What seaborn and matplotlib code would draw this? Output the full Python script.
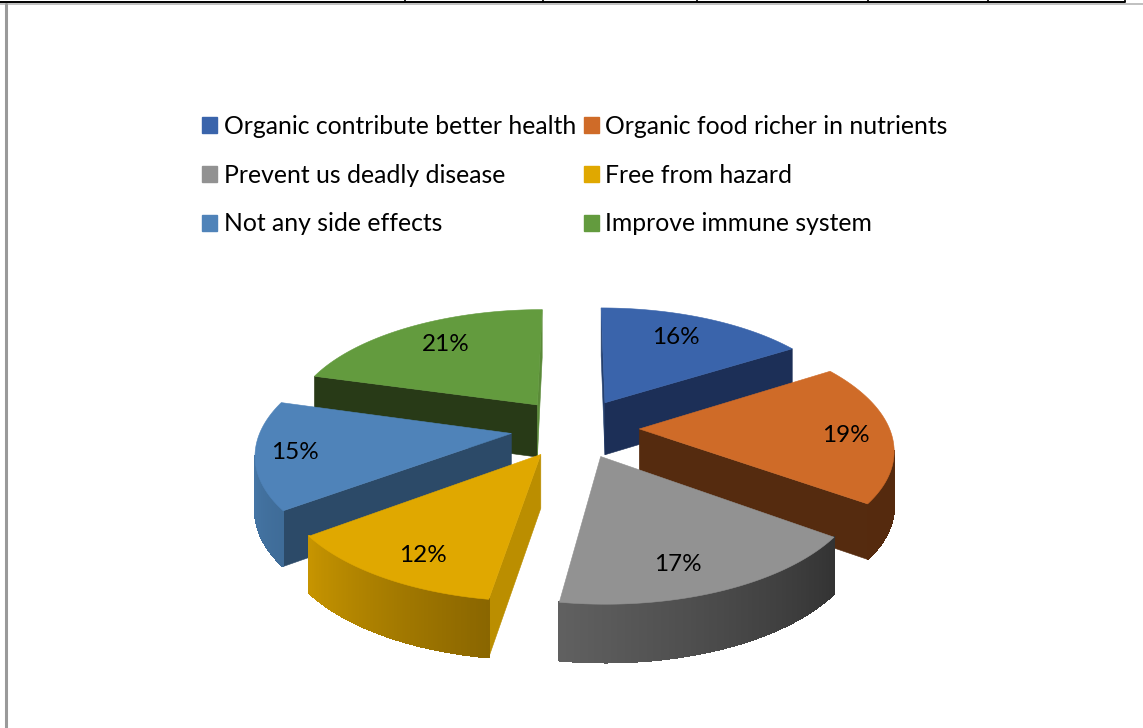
import numpy as np
import pandas as pd
import seaborn as sns
import matplotlib
matplotlib.use("Agg")
import matplotlib.pyplot as plt
from matplotlib.collections import PolyCollection
from matplotlib.patches import Patch, Polygon

categories = [
    "Organic contribute better health",
    "Organic food richer in nutrients",
    "Prevent us deadly disease",
    "Free from hazard",
    "Not any side effects",
    "Improve immune system",
]
# the labels show them rounded
percent = [16.0, 19.0, 17.4, 12.4, 14.6, 20.6]

top_colors = ["#3a64ab", "#cf6b28", "#929292", "#e0a800", "#4f83b9", "#639b3e"]
rim_from = ["#2a4a80", "#552a0e", "#606060", "#c69400", "#4b7fb2", "#4a7a30"]
rim_to = ["#2a4a80", "#55290e", "#333333", "#8a6600", "#3f6c98", "#4a7a30"]
start_face = ["#24406f", "#552b0f", "#555555", "#bb8e00", "#2c4a68", "#283a17"]
end_face = ["#1c2f57", "#552b0f", "#3a3a3a", "#8a6600", "#2c4a68", "#5a8a38"]
label_reach = [0.74, 0.82, 0.80, 0.82, 0.85, 0.74]
label_turn = [-2, 2, 4.5, -2.5, -0.5, 2]

# picture geometry, in pixels
cx, cy = 575, 428
rx, ry = 250, 116
k = 0.15
depth = 53
explode = 0.257

df = pd.DataFrame({"category": categories, "percent": percent})
df["start"] = df.percent.cumsum().shift(fill_value=0) / df.percent.sum() * 2 * np.pi
df["end"] = df.percent.cumsum() / df.percent.sum() * 2 * np.pi
df["mid"] = (df.start + df.end) / 2
df["ox"] = explode * np.sin(df.mid)
df["oy"] = explode * np.cos(df.mid)


def project(x, y, z=0.0):
    s = 1 / (1 + k * y)
    return cx + rx * x * s, cy - ry * y * s + depth * z * (1 - 0.08 * y)


def signed_area(pts):
    p = np.array(pts)
    q = np.roll(p, -1, axis=0)
    return np.sum(p[:, 0] * q[:, 1] - q[:, 0] * p[:, 1])


def draw_wall(ax, a, b, color, zorder):
    pts = [project(*a), project(*b), project(*b, 1), project(*a, 1)]
    if signed_area(pts) < 0:
        ax.add_patch(Polygon(pts, fc=color, ec=color, lw=0.4, zorder=zorder))


sns.set_theme(style="white")
plt.rcParams["font.family"] = ["Lato", "DejaVu Sans"]

fig, ax = plt.subplots(figsize=(11.43, 7.28), dpi=100)
fig.subplots_adjust(0, 0, 1, 1)
ax.set_xlim(0, 1143)
ax.set_ylim(728, 0)
ax.axis("off")

# page rules behind the chart
ax.plot([0, 1125], [2, 2], color="black", lw=1.4)
ax.plot([0, 1143], [4, 4], color="#b5b5b5", lw=1.2)
ax.plot([6, 6], [4, 728], color="#9a9a9a", lw=2.2)
ax.vlines([405, 543, 697, 868, 988, 1125], 0, 2, color="black", lw=1.2)

order = df.sort_values("oy", ascending=False).index
for n, i in enumerate(order):
    row = df.loc[i]
    theta = np.linspace(row.start, row.end, 120)
    wx = row.ox + np.sin(theta)
    wy = row.oy + np.cos(theta)
    z = 10 + n * 2
    apex = (row.ox, row.oy)

    draw_wall(ax, apex, (wx[0], wy[0]), start_face[i], z)
    draw_wall(ax, (wx[-1], wy[-1]), apex, end_face[i], z)

    shades = sns.blend_palette([rim_to[i], rim_from[i]], len(theta) - 1)
    quads, colors = [], []
    for j in range(len(theta) - 1):
        a, b = (wx[j], wy[j]), (wx[j + 1], wy[j + 1])
        pts = [project(*a), project(*b), project(*b, 1), project(*a, 1)]
        if signed_area(pts) < 0:
            quads.append(pts)
            colors.append(shades[j])
    if quads:
        # soft outline under hard edged strips, else the strips show as stripes
        outline = np.vstack([np.array([q[0] for q in quads]), np.array([q[3] for q in quads])[::-1]])
        base = colors[len(colors) // 2]
        ax.add_patch(Polygon(outline, fc=base, ec=base, lw=0.8, zorder=z))
        ax.add_collection(PolyCollection(quads, facecolors=colors, edgecolors=colors,
                                         linewidths=0.8, antialiaseds=False, zorder=z))

    px, py = project(np.r_[row.ox, wx], np.r_[row.oy, wy])
    ax.add_patch(Polygon(np.c_[px, py], fc=top_colors[i], ec=top_colors[i], lw=0.4, zorder=z + 1))

    turned = row.mid + np.radians(label_turn[i])
    lx = row.ox + label_reach[i] * np.sin(turned)
    ly = row.oy + label_reach[i] * np.cos(turned)
    tx, ty = project(lx, ly)
    ax.text(tx, ty, f"{row.percent:.0f}%", ha="center", va="center", fontsize=17.5,
            color="black", zorder=40)

handles = [Patch(fc=c, ec=c) for c in top_colors]
col_order = [0, 2, 4, 1, 3, 5]
ax.legend(
    [handles[i] for i in col_order],
    [categories[i] for i in col_order],
    ncol=2, frameon=False, loc="upper left",
    bbox_to_anchor=(202, 115), bbox_transform=ax.transData,
    borderaxespad=0, borderpad=0, fontsize=17.8, labelcolor="black",
    handlelength=0.6, handleheight=0.6, handletextpad=0.28,
    labelspacing=1.04, columnspacing=0.31,
)

fig.savefig("out.png", dpi=100)
